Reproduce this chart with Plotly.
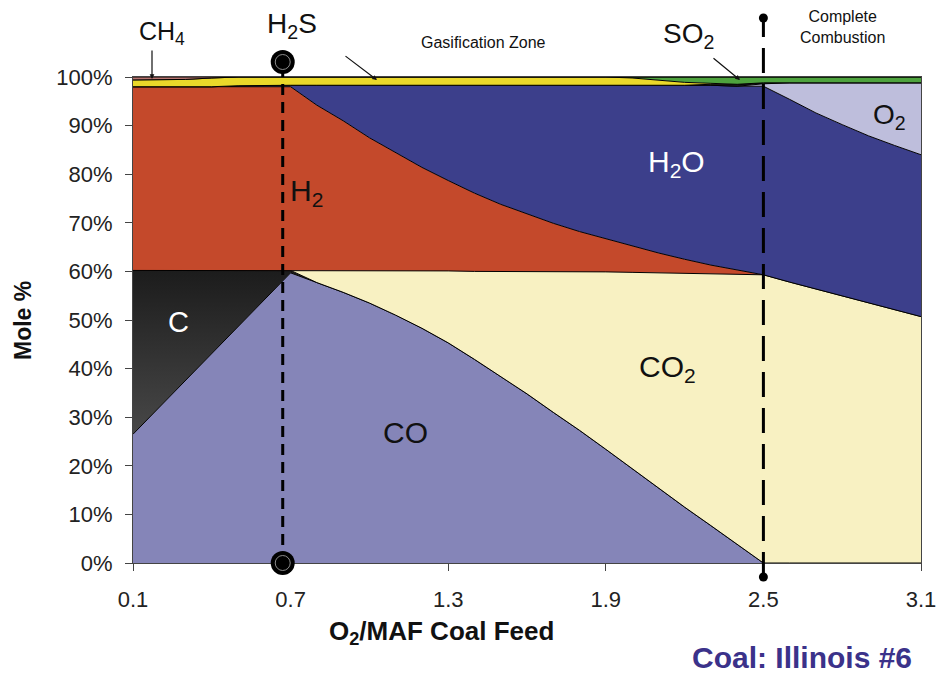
import plotly.graph_objects as go

# ---------------- data (mole %) ----------------
x_feed = [0.1, 0.2, 0.3, 0.4, 0.5, 0.6, 0.7, 0.8, 0.9, 1.0, 1.1, 1.2, 1.3, 1.4, 1.5, 1.6,
          1.7, 1.8, 1.9, 2.0, 2.1, 2.2, 2.3, 2.4, 2.5, 2.6, 2.7, 2.8, 2.9, 3.0, 3.1]

co = [26.5, 32.0, 37.5, 43.0, 48.5, 54.0, 59.7, 57.7, 55.7, 53.5, 51.0, 48.3, 45.3, 41.9, 38.4, 34.8,
      31.0, 27.3, 23.4, 19.4, 15.4, 11.5, 7.7, 3.9, 0, 0, 0, 0, 0, 0, 0]
c_solid = [33.7, 28.2, 22.7, 17.2, 11.7, 6.2, 0.5, 0, 0, 0, 0, 0, 0, 0, 0, 0,
           0, 0, 0, 0, 0, 0, 0, 0, 0, 0, 0, 0, 0, 0, 0]
co2 = [0, 0, 0, 0, 0, 0, 0, 2.5, 4.5, 6.6, 9.1, 11.8, 14.8, 18.1, 21.6, 25.2,
       29.0, 32.6, 36.5, 40.4, 44.3, 48.1, 51.8, 55.5, 59.3, 57.8, 56.4, 55.0, 53.5, 52.1, 50.7]
h2 = [37.8, 37.8, 37.8, 37.8, 37.8, 37.8, 37.8, 34.0, 30.8, 27.4, 24.3, 21.3, 18.6, 16.1, 13.8, 11.8,
      9.9, 8.3, 6.8, 5.4, 4.1, 2.9, 1.8, 0.9, 0, 0, 0, 0, 0, 0, 0]
h2o = [0, 0, 0, 0, 0.2, 0.3, 0.3, 4.1, 7.3, 10.8, 13.9, 16.9, 19.6, 22.2, 24.5, 26.5,
       28.4, 30.1, 31.6, 33.1, 34.5, 35.8, 37.0, 37.8, 38.8, 37.6, 36.2, 35.2, 34.4, 33.8, 33.3]
o2 = [0, 0, 0, 0, 0, 0, 0, 0, 0, 0, 0, 0, 0, 0, 0, 0,
      0, 0, 0, 0, 0, 0, 0, 0, 0.5, 3.4, 6.2, 8.6, 10.9, 12.9, 14.8]
so2 = [0, 0, 0, 0, 0, 0, 0, 0, 0, 0, 0, 0, 0, 0, 0, 0,
       0, 0, 0, 0, 0, 0, 0.2, 0.4, 0.2, 0, 0, 0, 0, 0, 0]
h2s_n2 = [1.4, 1.4, 1.5, 1.8, 1.8, 1.7, 1.7, 1.7, 1.7, 1.7, 1.7, 1.7, 1.7, 1.7, 1.7, 1.7,
          1.7, 1.7, 1.7, 1.5, 1.0, 0.6, 0.2, 0, 0, 0, 0, 0, 0, 0, 0]
n2_comb = [0, 0, 0, 0, 0, 0, 0, 0, 0, 0, 0, 0, 0, 0, 0, 0,
           0, 0, 0, 0.2, 0.7, 1.1, 1.3, 1.5, 1.2, 1.2, 1.2, 1.2, 1.2, 1.2, 1.2]
ch4 = [0.6, 0.6, 0.5, 0.2, 0, 0, 0, 0, 0, 0, 0, 0, 0, 0, 0, 0,
       0, 0, 0, 0, 0, 0, 0, 0, 0, 0, 0, 0, 0, 0, 0]

x_ticks = [0.1, 0.7, 1.3, 1.9, 2.5, 3.1]
y_ticks = [0, 10, 20, 30, 40, 50, 60, 70, 80, 90, 100]
y_tick_text = [f"{v}%" for v in y_ticks]

gasif_line_x = 0.67      # H2S / gasification marker line
combust_line_x = 2.5     # complete combustion line

# ---------------- figure ----------------
FONT = "Liberation Sans, Arial, sans-serif"
fig = go.Figure()

layers = [
    ("CO", co, "#8585B8"),
    ("C", c_solid, None),
    ("CO2", co2, "#F8F1C2"),
    ("H2", h2, "#C4492B"),
    ("H2O", h2o, "#3C3F8B"),
    ("O2", o2, "#BEBEDC"),
    ("SO2", so2, "#202020"),
    ("H2S", h2s_n2, "#EAD82A"),
    ("N2", n2_comb, "#4EA33E"),
    ("CH4", ch4, "#B87570"),
]
for name, vals, color in layers:
    kw = dict(x=x_feed, y=vals, name=name, mode="lines", stackgroup="one",
              line=dict(color="black", width=1), showlegend=False, hoverinfo="skip")
    if color is None:
        kw["fillgradient"] = dict(type="vertical",
                                  colorscale=[[0, "#6a6a6a"], [1, "#1c1c1c"]])
    else:
        kw["fillcolor"] = color
    fig.add_trace(go.Scatter(**kw))

# page is offset by the 8px body margin of the html page
OFF = 8
W, H = 950 - OFF, 677 - OFF
L, R, T, B = 133 - OFF, 29, 77 - OFF, 114
PW, PH = W - L - R, H - T - B


def px(xp, yp):
    """page pixel -> paper coordinates"""
    return (xp - OFF - L) / PW, (H - B - (yp - OFF)) / PH


def label(text, xp, yp, size, color="#111", bold=False, angle=0):
    x_, y_ = px(xp, yp)
    if bold:
        text = f"<b>{text}</b>"
    fig.add_annotation(x=x_, y=y_, xref="paper", yref="paper", text=text, showarrow=False,
                       font=dict(family=FONT, size=size, color=color), textangle=angle,
                       xanchor="center", yanchor="middle", borderpad=0)


def arrow(x_head, y_head, x_tail, y_tail, head=2):
    x_, y_ = px(x_head, y_head)
    fig.add_annotation(x=x_, y=y_, xref="paper", yref="paper", text="", showarrow=True,
                       ax=x_tail - x_head, ay=y_tail - y_head, arrowhead=head, arrowsize=0.8,
                       arrowwidth=1.2, arrowcolor="#111")


def dot(xval, yp, radius, fill, line_color=None, line_w=0):
    _, y_ = px(0, yp)
    fig.add_shape(type="circle", xref="x", yref="paper", xsizemode="pixel", ysizemode="pixel",
                  xanchor=xval, yanchor=y_, x0=-radius, x1=radius, y0=-radius, y1=radius,
                  fillcolor=fill, line=dict(color=line_color or fill, width=line_w), layer="above")


# marker lines
_, y_top_g = px(0, 62)
_, y_top_c = px(0, 18)
_, y_bot_c = px(0, 577)
fig.add_shape(type="line", xref="x", yref="paper", x0=gasif_line_x, x1=gasif_line_x,
              y0=0, y1=y_top_g, line=dict(color="black", width=3, dash="11px,7px"), layer="above")
fig.add_shape(type="line", xref="x", yref="paper", x0=combust_line_x, x1=combust_line_x,
              y0=y_bot_c, y1=y_top_c, line=dict(color="black", width=3, dash="25px,11px"),
              layer="above")

# circles on the gasification line
for yp in (62, 563):
    dot(gasif_line_x, yp, 12, "black")
    dot(gasif_line_x, yp, 7.5, "black", line_color="#8a8a8a", line_w=1)
# end dots of the combustion line
for yp in (18, 577):
    dot(combust_line_x, yp, 4.5, "black")

label("CH<sub>4</sub>", 162, 33, 25)
label("H<sub>2</sub>S", 292, 25, 28)
label("Gasification Zone", 483, 43, 16)
label("SO<sub>2</sub>", 688, 35, 28)
label("Complete<br>Combustion", 842, 27, 16)
label("H<sub>2</sub>", 306, 192, 30)
label("H<sub>2</sub>O", 676, 163, 30, color="white")
label("O<sub>2</sub>", 889, 117, 28)
label("C", 178, 322, 29, color="white")
label("CO<sub>2</sub>", 667, 368, 30)
label("CO", 405, 432, 30)
label("Coal: Illinois #6", 802, 657, 30, color="#3B328A", bold=True)
label("O<sub>2</sub>/MAF Coal Feed", 441, 632, 26, color="#111", bold=True)
label("Mole %", 23, 321, 23, color="#111", bold=True, angle=-90)

arrow(152, 79, 152, 49)
arrow(377, 80, 344, 55)
arrow(740, 80, 712, 57)

fig.update_layout(
    width=W, height=H,
    margin=dict(l=L, r=R, t=T, b=B),
    plot_bgcolor="white", paper_bgcolor="white",
    showlegend=False,
    font=dict(family=FONT, color="#222"),
)
fig.update_xaxes(range=[0.1, 3.1], tickvals=x_ticks, ticktext=[str(v) for v in x_ticks],
                 showgrid=False, zeroline=False, showline=True, linecolor="#444", linewidth=1,
                 mirror=True, ticks="outside", ticklen=7, tickcolor="#444", ticklabelstandoff=10,
                 tickfont=dict(family=FONT, size=22, color="#222"))
fig.update_yaxes(range=[0, 100], tickvals=y_ticks, ticktext=y_tick_text,
                 showgrid=False, zeroline=False, showline=True, linecolor="#444", linewidth=1,
                 mirror=True, ticks="outside", ticklen=7, tickcolor="#444", ticklabelstandoff=8,
                 tickfont=dict(family=FONT, size=22, color="#222"))

fig.write_html("out.html")
